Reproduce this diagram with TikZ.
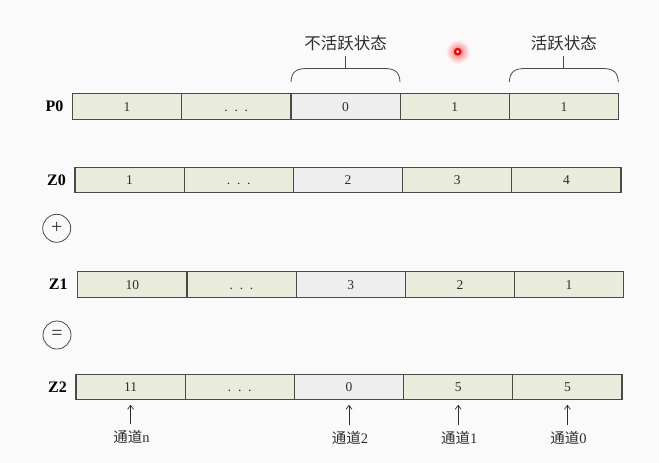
\documentclass[tikz,border=0pt]{standalone}
\usepackage{fontspec}
\setmainfont{Liberation Serif}
\newfontfamily\cjk{Noto Sans CJK SC}
\usetikzlibrary{arrows.meta}
\definecolor{cellg}{HTML}{E9ECDA}
\definecolor{cellw}{HTML}{EEEEEE}
\definecolor{bord}{HTML}{4A4A4A}
\definecolor{ink}{HTML}{2E2E2E}
\definecolor{bgc}{HTML}{FAFAFA}
\begin{document}
\begin{tikzpicture}[x=1pt,y=-1pt,
  cell/.style={draw=bord, line width=1.2pt, fill=cellg, minimum width=109.2pt, minimum height=25.5pt, inner sep=0pt, outer sep=0pt, font=\fontsize{13.5}{13.5}\selectfont, text=ink, text height=9.2pt, text depth=0pt},
  offcell/.style={cell, fill=cellw},
  rowlbl/.style={font=\fontsize{16}{16}\selectfont\bfseries, text=black, inner sep=0pt, anchor=east},
  opcirc/.style={circle, draw=bord, line width=0.8pt, minimum size=28pt, inner sep=0pt, font=\fontsize{20}{20}\selectfont, text=ink},
  chan/.style={font=\fontsize{14.5}{14.5}\selectfont, text=ink, inner sep=1pt},
  statelbl/.style={font=\fontsize{16.5}{16.5}\selectfont\cjk, text=ink, inner sep=1pt},
  bracep/.style={draw=bord, line width=0.8pt},
  arr/.style={draw=ink, line width=0.7pt, -{Straight Barb[length=4pt,width=6pt]}}
]
\useasboundingbox (0,0) rectangle (659,463);
\fill[bgc] (0,0) rectangle (659,463);

% rows
\foreach \i/\t/\s in {1/1/cell, 2/{.\ \ .\ \ .}/cell, 3/0/offcell, 4/1/cell, 5/1/cell}
  \node[\s] (p\i) at ({72.5+109.2*(\i-0.5)},106.5) {\t};
\foreach \i/\t/\s in {1/1/cell, 2/{.\ \ .\ \ .}/cell, 3/2/offcell, 4/3/cell, 5/4/cell}
  \node[\s] (za\i) at ({75+109.2*(\i-0.5)},180) {\t};
\foreach \i/\t/\s in {1/10/cell, 2/{.\ \ .\ \ .}/cell, 3/3/offcell, 4/2/cell, 5/1/cell}
  \node[\s] (zb\i) at ({77.7+109.2*(\i-0.5)},284.5) {\t};
\foreach \i/\t/\s in {1/11/cell, 2/{.\ \ .\ \ .}/cell, 3/0/offcell, 4/5/cell, 5/5/cell}
  \node[\s] (zc\i) at ({76+109.2*(\i-0.5)},387) {\t};

% row labels
\node[rowlbl] (lp) at ([xshift=-9pt]p1.west) {P0};
\node[rowlbl] (la) at ([xshift=-9pt]za1.west) {Z0};
\node[rowlbl] (lb) at ([xshift=-10pt]zb1.west) {Z1};
\node[rowlbl] (lc) at ([xshift=-9pt]zc1.west) {Z2};

% operators
\node[opcirc] (plus) at (56.7,228.3) {+};
\node[opcirc] (eq) at (57,335) {=};

% state labels and braces
\node[statelbl] (inact) at (345.5,43) {不活跃状态};
\node[statelbl] (act) at (563.9,43) {活跃状态};
\coordinate (b1l) at (291,82);
\coordinate (b1r) at (400,82);
\coordinate (b2l) at (509.3,82);
\coordinate (b2r) at (618.3,82);
\draw[bracep] (b1l) .. controls (291.5,72) and (296,68.5) .. (307,68.5) -- (384,68.5)
   .. controls (395,68.5) and (399.5,72) .. (b1r);
\draw[bracep] (345.5,68.5) -- (345.5,56);
\draw[bracep] (b2l) .. controls (509.8,72) and (514.3,68.5) .. (525.3,68.5) -- (602.3,68.5)
   .. controls (613.3,68.5) and (617.8,72) .. (b2r);
\draw[bracep] (563.8,68.5) -- (563.8,56);

% channel labels and arrows
\path (zc1.center) ++(1,50) node[chan] (cn) {{\cjk 通道}n};
\path (zc3.center) ++(1,51) node[chan] (c2) {{\cjk 通道}2};
\path (zc4.center) ++(1,51) node[chan] (c1) {{\cjk 通道}1};
\path (zc5.center) ++(1,51) node[chan] (c0) {{\cjk 通道}0};
\foreach \l/\c in {cn/zc1, c2/zc3, c1/zc4, c0/zc5}
  \draw[arr, shorten <=5pt, shorten >=5pt] (\c.center |- \l.north) -- (\c.south);

% red pointer dot
\coordinate (dot) at (457.7,51.7);
\shade[inner color=red!60, outer color=bgc] (dot) circle (12);
\draw[red, line width=2.2pt] (dot) circle (2.7);
\fill[white] (dot) circle (1.4);
\end{tikzpicture}
\end{document}
